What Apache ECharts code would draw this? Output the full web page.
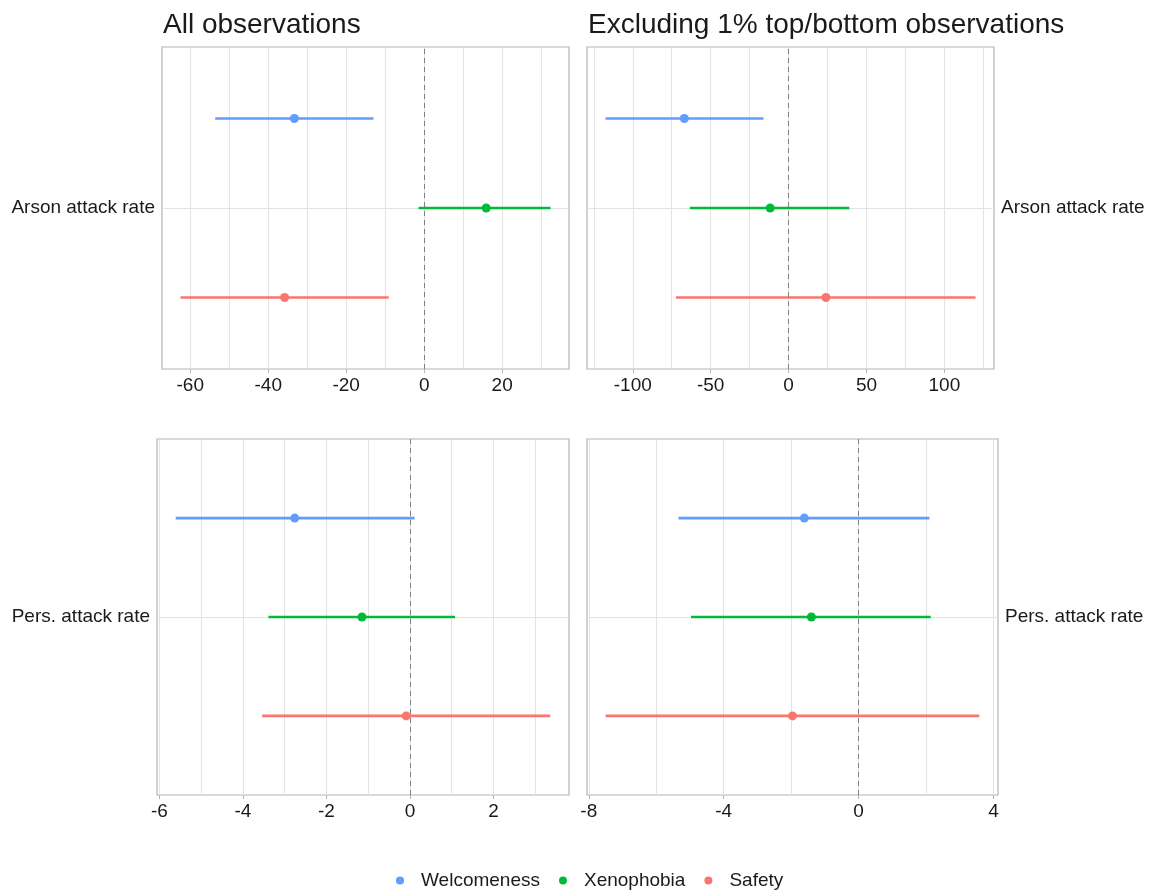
<!DOCTYPE html>
<html>
<head>
<meta charset="utf-8">
<script src="https://cdn.jsdelivr.net/npm/echarts@6/dist/echarts.min.js"></script>
<style>
html,body{margin:0;padding:0;background:#fff;}
#chart{width:1150px;height:891px;}
</style>
</head>
<body>
<div id="chart"></div>
<script>
// ---- data ----
const groups = ['Welcomeness', 'Xenophobia', 'Safety'];
const colTitles = ['All observations', 'Excluding 1% top/bottom observations'];
const rowLabels = ['Arson attack rate', 'Pers. attack rate'];

const arsonAllEst = [-33.3, 15.9, -35.8];
const arsonAllLo  = [-53.6, -1.45, -62.5];
const arsonAllHi  = [-13.0, 32.4, -9.1];

const arsonExclEst = [-66.9, -11.8, 24.0];
const arsonExclLo  = [-117.5, -63.3, -72.3];
const arsonExclHi  = [-16.1, 39.0, 120.0];

const persAllEst = [-2.76, -1.15, -0.09];
const persAllLo  = [-5.61, -3.39, -3.54];
const persAllHi  = [0.11, 1.08, 3.36];

const persExclEst = [-1.61, -1.40, -1.96];
const persExclLo  = [-5.34, -4.97, -7.50];
const persExclHi  = [2.10, 2.14, 3.58];

const arsonAllTicks  = [-60, -40, -20, 0, 20];
const arsonAllGrid   = [-60, -50, -40, -30, -20, -10, 0, 10, 20, 30];
const arsonExclTicks = [-100, -50, 0, 50, 100];
const arsonExclGrid  = [-125, -100, -75, -50, -25, 0, 25, 50, 75, 100, 125];
const persAllTicks   = [-6, -4, -2, 0, 2];
const persAllGrid    = [-6, -5, -4, -3, -2, -1, 0, 1, 2, 3];
const persExclTicks  = [-8, -4, 0, 4];
const persExclGrid   = [-8, -6, -4, -2, 0, 2, 4];

// ---- styles / layout ----
const colors = ['#619CFF', '#00BA38', '#F8766D'];
const FONT = '"Liberation Sans", Arial, sans-serif';
const TXT = '#1a1a1a';
const dodge = 1 / 3;

const panels = [
  {est: arsonAllEst, lo: arsonAllLo, hi: arsonAllHi, ticks: arsonAllTicks, grid: arsonAllGrid, row: 0, side: 'left',
   box: {left: 162, top: 47, width: 407, height: 322}},
  {est: arsonExclEst, lo: arsonExclLo, hi: arsonExclHi, ticks: arsonExclTicks, grid: arsonExclGrid, row: 0, side: 'right',
   box: {left: 587, top: 47, width: 407, height: 322}},
  {est: persAllEst, lo: persAllLo, hi: persAllHi, ticks: persAllTicks, grid: persAllGrid, row: 1, side: 'left',
   box: {left: 157, top: 439, width: 412, height: 356}},
  {est: persExclEst, lo: persExclLo, hi: persExclHi, ticks: persExclTicks, grid: persExclGrid, row: 1, side: 'right',
   box: {left: 587, top: 439, width: 411, height: 356}}
];

const grids = [], xAxes = [], yAxes = [], series = [];

panels.forEach((p, pi) => {
  const dmin = Math.min(...p.lo), dmax = Math.max(...p.hi);
  const span = dmax - dmin;
  const xmin = dmin - 0.05 * span, xmax = dmax + 0.05 * span;
  grids.push(Object.assign({show: true, borderColor: '#b3b3b3', borderWidth: 1.2, backgroundColor: '#fff', containLabel: false}, p.box));
  // gridline axis (used by series)
  xAxes.push({
    type: 'value', gridIndex: pi, min: xmin, max: xmax,
    axisLine: {show: false},
    axisTick: {show: false, customValues: p.grid},
    axisLabel: {show: false},
    splitLine: {show: true, lineStyle: {color: '#e3e3e3', width: 1}}
  });
  // label / tick axis
  xAxes.push({
    type: 'value', gridIndex: pi, min: xmin, max: xmax, position: 'bottom',
    axisLine: {show: false},
    axisTick: {show: true, length: 4, customValues: p.ticks, lineStyle: {color: '#b3b3b3'}},
    axisLabel: {show: true, customValues: p.ticks, margin: 7, color: TXT, fontSize: 19, fontFamily: FONT},
    splitLine: {show: false}
  });
  yAxes.push({
    type: 'value', gridIndex: pi, min: -0.6, max: 0.6, position: p.side,
    axisLine: {show: false},
    axisTick: {show: true, length: 5, customValues: [0], lineStyle: {color: '#b3b3b3'}},
    axisLabel: {show: true, customValues: [0], margin: 7, color: TXT, fontSize: 19, fontFamily: FONT,
      padding: [4, 0, 0, 0], formatter: () => rowLabels[p.row]},
    splitLine: {show: true, lineStyle: {color: '#e3e3e3', width: 1}}
  });
  groups.forEach((g, gi) => {
    const off = (1 - gi) * dodge;
    series.push({
      name: g, type: 'custom', xAxisIndex: pi * 2, yAxisIndex: pi,
      itemStyle: {color: colors[gi]},
      encode: {x: [0, 1], y: 2},
      data: [[p.lo[gi], p.hi[gi], off]],
      z: 3,
      renderItem: (params, api) => {
        const a = api.coord([api.value(0), api.value(2)]);
        const b = api.coord([api.value(1), api.value(2)]);
        return {type: 'line', shape: {x1: a[0], y1: a[1], x2: b[0], y2: b[1]},
          style: {stroke: colors[gi], lineWidth: 2.6}};
      }
    });
    const sc = {
      name: g, type: 'scatter', xAxisIndex: pi * 2, yAxisIndex: pi,
      symbol: 'circle', symbolSize: 9,
      itemStyle: {color: colors[gi], opacity: 1},
      data: [[p.est[gi], off]],
      z: 4
    };
    if (gi === 0) {
      sc.markLine = {
        silent: true, symbol: ['none', 'none'], label: {show: false}, animation: false,
        lineStyle: {color: '#808080', type: [5, 4], width: 1},
        data: [{xAxis: 0}]
      };
    }
    series.push(sc);
  });
});

const chart = echarts.init(document.getElementById('chart'), null, {renderer: 'canvas'});
chart.setOption({
  animation: false,
  backgroundColor: '#fff',
  title: [
    {text: colTitles[0], left: 158, top: 6, textStyle: {fontSize: 28, fontWeight: 'normal', color: TXT, fontFamily: FONT}},
    {text: colTitles[1], left: 583, top: 6, textStyle: {fontSize: 28, fontWeight: 'normal', color: TXT, fontFamily: FONT}}
  ],
  legend: {
    top: 866, left: 391, itemGap: 19, itemWidth: 8, itemHeight: 8,
    data: groups.map(g => ({name: g, icon: 'circle'})),
    textStyle: {fontSize: 19, color: TXT, fontFamily: FONT, padding: [0, 0, 0, 12]}
  },
  grid: grids,
  xAxis: xAxes,
  yAxis: yAxes,
  series: series
});
</script>
</body>
</html>
